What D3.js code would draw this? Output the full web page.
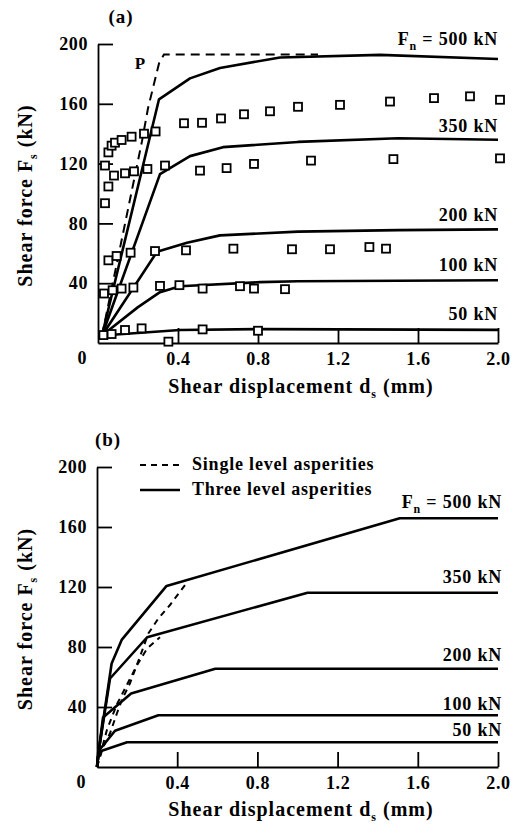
<!DOCTYPE html>
<html><head><meta charset="utf-8">
<script src="https://cdn.jsdelivr.net/npm/d3@7"></script>
<style>
body{margin:0;background:#fff;}
svg text{font-family:"Liberation Serif","DejaVu Serif",serif;font-weight:bold;fill:#000;}
</style></head>
<body><svg id="c" width="528" height="837"></svg>
<script>
// ---------- DATA ----------
const xTicks = [0.4, 0.8, 1.2, 1.6, 2.0];
const yTicks = [40, 80, 120, 160, 200];
const normalLoads = ["500 kN", "350 kN", "200 kN", "100 kN", "50 kN"];

// Panel (a): model curves [d (mm), F (kN)]
const a500 = [[0.02,5],[0.305,163],[0.46,177],[0.61,184],[0.91,191],[1.41,192.7],[2.0,190]];
const a350 = [[0.02,5],[0.31,113],[0.46,125],[0.625,131],[1.0,134.5],[1.5,137],[2.0,136]];
const a200 = [[0.02,5],[0.295,61],[0.445,67],[0.61,72],[1.0,74.5],[1.5,75.5],[2.0,76]];
const a100 = [[0.02,5],[0.2,24],[0.31,34],[0.41,38],[0.81,40.7],[1.0,41.3],[2.0,42]];
const a50  = [[0.02,5],[0.41,8.7],[0.81,9.3],[2.0,8.8]];
const aPeak = [[0.02,5],[0.22,135],[0.25,157],[0.305,187],[0.33,193],[1.1,193]];

// Panel (a): test data (squares)
const t500 = [[0.052,127.5],[0.068,132],[0.085,134],[0.118,135.8],[0.168,138],[0.23,140],[0.288,141.5],
  [0.43,147],[0.52,147.3],[0.615,150.2],[0.73,153],[0.86,155],[1.0,158],[1.21,159.3],[1.46,161.5],[1.68,163.8],[1.86,165],[2.01,162.7]];
const t350 = [[0.035,93.5],[0.052,104.7],[0.035,118.7],[0.08,112],[0.135,113.5],[0.18,114.8],[0.247,116.4],[0.335,118.7],
  [0.51,115.3],[0.643,117],[0.78,119.8],[1.065,122],[1.477,123],[2.01,123.5]];
const t200 = [[0.052,55.3],[0.093,58.2],[0.163,60.4],[0.285,61.5],[0.44,62],[0.677,63.1],[0.97,62.7],[1.16,62.7],[1.357,64.2],[1.44,63.1]];
const t100 = [[0.03,33.1],[0.073,35.3],[0.118,36.4],[0.177,37.1],[0.31,38.2],[0.407,38.7],[0.523,36.4],[0.71,38],[0.78,36.4],[0.935,36]];
const t50  = [[0.027,5.3],[0.068,6],[0.135,8.7],[0.218,9.8],[0.352,0.9],[0.523,9.1],[0.8,8.2]];

// Panel (b): three level asperities (solid)
const b500 = [[0,0],[0.01,12],[0.073,69],[0.123,84.7],[0.347,120.7],[1.51,165.8],[2.0,165.8]];
const b350 = [[0,0],[0.01,12],[0.065,59],[0.25,86.5],[1.05,116.2],[2.0,116.2]];
const b200 = [[0,0],[0.01,12],[0.03,33],[0.17,49],[0.59,65.5],[2.0,65.5]];
const b100 = [[0,0],[0.01,11],[0.09,24.2],[0.306,34.5],[2.0,34.5]];
const b50  = [[0,0],[0.006,10],[0.15,16.5],[2.0,16.5]];
// Panel (b): single level asperities (dashed)
const s500 = [[0,0],[0.03,13],[0.065,22.5],[0.1,36],[0.125,45],[0.165,56],[0.21,72],[0.256,89],[0.306,99],[0.364,108],[0.44,121.5]];
const s350 = [[0,0],[0.05,25],[0.1,42],[0.15,55],[0.2,68],[0.25,79],[0.314,86.5]];

// ---------- DRAW ----------
const svg = d3.select("#c");
const FS = 18;
const LS = "0.6px";

function panel(xs, ys){
  const g = svg.append("g");
  const ax = d3.axisBottom(xs).tickValues(xTicks).tickFormat(d3.format(".1f"))
    .tickSizeInner(-15).tickSizeOuter(0).tickPadding(9);
  const ay = d3.axisLeft(ys).tickValues(yTicks).tickFormat(d3.format("d"))
    .tickSizeInner(-15).tickSizeOuter(0).tickPadding(10);
  const gx = g.append("g").attr("transform",`translate(0,${ys(0)})`).call(ax);
  const gy = g.append("g").attr("transform",`translate(${xs(0)},0)`).call(ay);
  [gx,gy].forEach(a=>{
    a.selectAll("path,line").attr("stroke","#000").attr("stroke-width",1.8);
    a.selectAll("text").style("font-size",FS+"px").style("letter-spacing",LS).attr("fill","#000");
  });
  g.append("text").attr("x",xs(0)-16).attr("y",ys(0)+21).attr("text-anchor","middle")
    .style("font-size",FS+"px").text("0");
  return g;
}

function yTitle(cy){
  const t = svg.append("text").attr("transform",`translate(32,${cy}) rotate(-90)`)
    .attr("text-anchor","middle").style("font-size","20px").style("letter-spacing","1px");
  t.append("tspan").text("Shear force  F");
  t.append("tspan").attr("dy",5).style("font-size","12px").text("s");
  t.append("tspan").attr("dy",-5).text(" (kN)");
}
function xTitle(cx, y){
  const t = svg.append("text").attr("x",cx).attr("y",y).attr("text-anchor","middle")
    .style("font-size","20px").style("letter-spacing","1px");
  t.append("tspan").text("Shear displacement d");
  t.append("tspan").attr("dy",5).style("font-size","12px").text("s");
  t.append("tspan").attr("dy",-5).text(" (mm)");
}
function loadLabel(x, y, i){
  const t = svg.append("text").attr("x",x).attr("y",y).attr("text-anchor","end")
    .style("font-size",FS+"px").style("letter-spacing","0.8px");
  if(i===0){
    t.append("tspan").text("F");
    t.append("tspan").attr("dy",5).style("font-size","12px").text("n");
    t.append("tspan").attr("dy",-5).text(" = " + normalLoads[0]);
  } else t.text(normalLoads[i]);
}

// ---- Panel (a)
const xA = d3.scaleLinear([0,2],[98,498]);
const yA = d3.scaleLinear([0,200],[343,44]);
panel(xA,yA);
const lineA = d3.line().x(d=>xA(d[0])).y(d=>yA(d[1]));
[a500,a350,a200,a100,a50].forEach(c=>{
  svg.append("path").attr("d",lineA(c)).attr("fill","none").attr("stroke","#000").attr("stroke-width",2.6).attr("stroke-linejoin","round");
});
svg.append("path").attr("d",lineA(aPeak)).attr("fill","none").attr("stroke","#000").attr("stroke-width",2)
  .attr("stroke-dasharray","9,6");
[t500,t350,t200,t100,t50].forEach(s=>{
  svg.append("g").selectAll("rect").data(s).join("rect")
    .attr("x",d=>xA(d[0])-4).attr("y",d=>yA(d[1])-4).attr("width",8).attr("height",8)
    .attr("fill","#fff").attr("stroke","#000").attr("stroke-width",1.8);
});
const aOff = [-14,-8,-8,-9,-10];
[a500,a350,a200,a100,a50].forEach((c,i)=>loadLabel(xA(2.0), yA(c[c.length-1][1])+aOff[i], i));
svg.append("text").attr("x",140).attr("y",69).attr("text-anchor","middle").style("font-size","17px").text("P");
svg.append("text").attr("x",121).attr("y",23).attr("text-anchor","middle").style("font-size","19px").style("letter-spacing","1px").text("(a)");
yTitle(yA(100)+2);
xTitle(301, 393);

// ---- Panel (b)
const xB = d3.scaleLinear([0,2],[97,498]);
const yB = d3.scaleLinear([0,200],[767,467]);
panel(xB,yB);
const lineB = d3.line().x(d=>xB(d[0])).y(d=>yB(d[1]));
[b500,b350,b200,b100,b50].forEach(c=>{
  svg.append("path").attr("d",lineB(c)).attr("fill","none").attr("stroke","#000").attr("stroke-width",2.6).attr("stroke-linejoin","round");
});
[s500,s350].forEach(c=>{
  svg.append("path").attr("d",lineB(c)).attr("fill","none").attr("stroke","#000").attr("stroke-width",2)
    .attr("stroke-dasharray","6,5");
});
const bOff = [-10,-10,-8,-5,-6];
[b500,b350,b200,b100,b50].forEach((c,i)=>loadLabel(xB(2.0)+4, yB(c[c.length-1][1])+bOff[i], i));
svg.append("text").attr("x",108).attr("y",446).attr("text-anchor","middle").style("font-size","19px").style("letter-spacing","1px").text("(b)");
// legend
const leg = [["Single level asperities","6,5",2],["Three level asperities",null,2.6]];
leg.forEach((l,i)=>{
  const y = 465 + i*25;
  svg.append("line").attr("x1",140).attr("x2",180).attr("y1",y).attr("y2",y)
    .attr("stroke","#000").attr("stroke-width",l[2]).attr("stroke-dasharray",l[1]);
  svg.append("text").attr("x",192).attr("y",y+5).style("font-size","18px").style("letter-spacing","0.8px").text(l[0]);
});
yTitle(yB(100)+2);
xTitle(301, 816);
</script></body></html>
